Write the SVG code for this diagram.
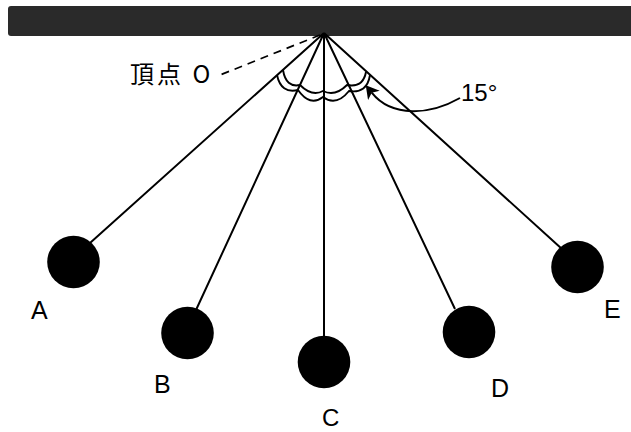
<svg xmlns="http://www.w3.org/2000/svg" width="631" height="432" viewBox="0 0 631 432">
<style>
.l{fill:none;stroke:#000;stroke-width:2}
.a{fill:none;stroke:#000;stroke-width:1.9}
.b{fill:#000}
text{font-family:"Liberation Sans","Noto Sans CJK JP",sans-serif;font-size:25px;fill:#000}
.j{font-family:"Noto Sans CJK JP","Liberation Sans",sans-serif;font-size:24px;letter-spacing:3px}
.n{font-size:24px}
</style>
<defs><marker id="ah" markerUnits="userSpaceOnUse" markerWidth="14" markerHeight="16" refX="3.5" refY="7.5" orient="auto"><path d="M13 7.5L0 0L3.5 7.5L0 15Z" fill="#000"/></marker></defs>
<rect width="631" height="432" fill="#fff"/>
<g id="ceiling"><path d="M631 6H11Q8 6 8 9V33Q8 36 11 36H631Z" fill="#2a2a2a"/></g>
<g id="connectors">
<path class="l" d="M324 33L90 243M324 33L196 310M324 33V336M324 33L455 309M324 33L562 249"/>
<path d="M320 35L220 75" fill="none" stroke="#000" stroke-width="1.7" stroke-dasharray="8 6"/>
<path class="a" d="M283 70Q286 88 300 85Q312 97 323 91Q335 97 347 85Q363 88 366 72"/>
<path class="a" d="M277 75Q281 94 298 90Q310 107 323 97Q336 107 349 91Q367 94 370 75"/>
<path class="l" d="M460 98C430 115 392 118 371.7 92.7" marker-end="url(#ah)"/>
</g>
<g id="apex-label"><text class="j" x="130" y="82.5">頂点 O</text></g>
<g id="angle-label"><text class="n" x="461" y="101">15°</text></g>
<g id="bob-a"><circle class="b" cx="73.5" cy="262" r="26.3"/><text x="31" y="319">A</text></g>
<g id="bob-b"><circle class="b" cx="187.5" cy="333" r="26.3"/><text x="154" y="393">B</text></g>
<g id="bob-c"><circle class="b" cx="324" cy="362" r="26.3"/><text x="322" y="426" class="n">C</text></g>
<g id="bob-d"><circle class="b" cx="469" cy="332" r="26.3"/><text x="491" y="397">D</text></g>
<g id="bob-e"><circle class="b" cx="577.5" cy="267" r="26.3"/><text x="604" y="318">E</text></g>
</svg>
